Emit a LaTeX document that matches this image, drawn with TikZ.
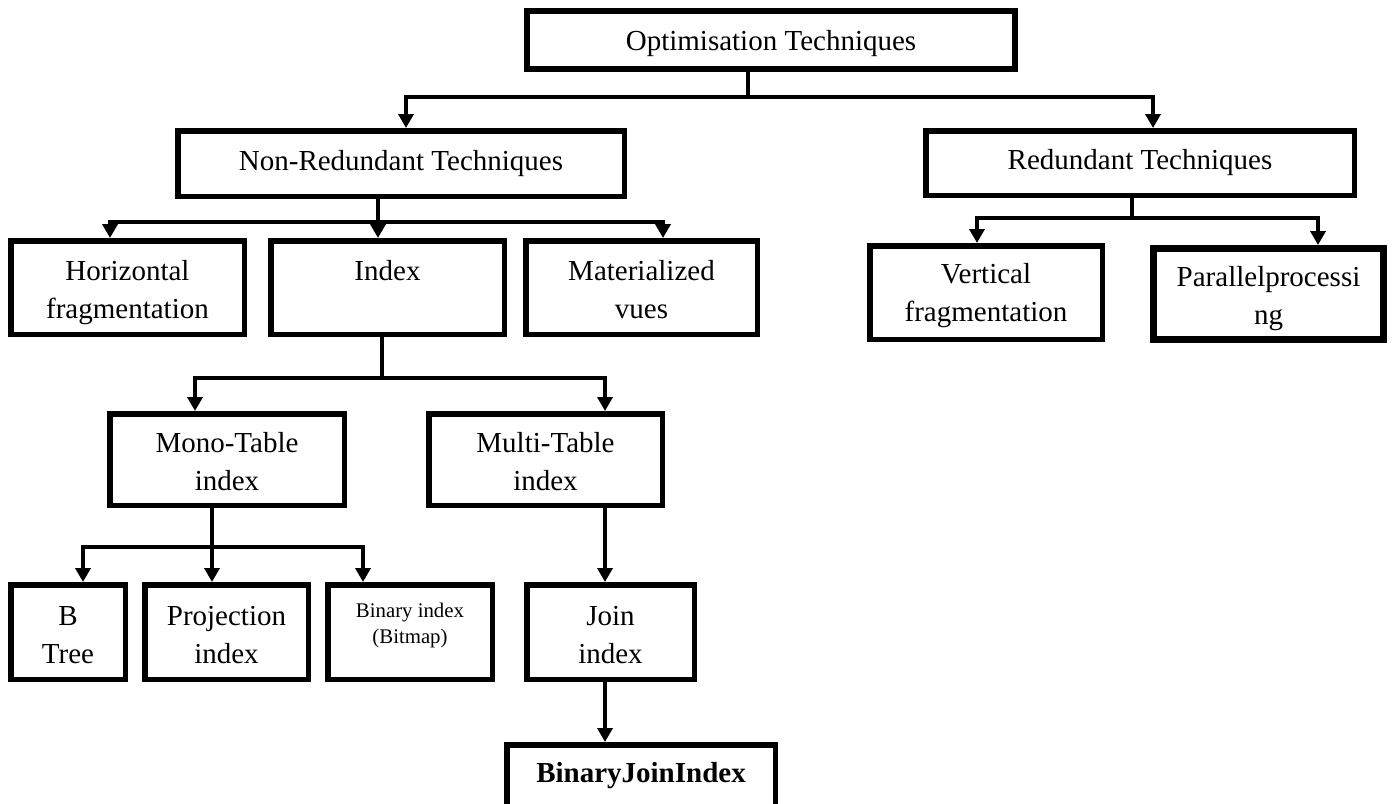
\documentclass[tikz,border=0pt]{standalone}
\usepackage{fontspec}
\setmainfont{Liberation Serif}
\usetikzlibrary{arrows.meta}
\begin{document}
\begin{tikzpicture}[x=1pt,y=-1pt,
  box/.style={draw, line width=5.5pt, inner sep=0pt, align=center,
    font=\fontsize{29pt}{38pt}\selectfont},
  twoline/.style={text height=69pt, text depth=7pt},
  small/.style={font=\fontsize{20.8pt}{26pt}\selectfont, text height=29pt, text depth=7pt},
  link/.style={line width=4pt},
  arr/.style={line width=4pt, -{Triangle[width=15pt,length=14pt]}}]
\useasboundingbox (0,0) rectangle (1399,803);

% level 0
\node[box, line width=6pt, text height=26pt, text depth=6pt, minimum width=488pt, minimum height=58pt] (opt) at (771,40) {Optimisation Techniques};

% level 1
\node[box, minimum width=446.5pt, minimum height=65.5pt] (nonred) at (401,163.5) {Non-Redundant Techniques};
\node[box, minimum width=428.5pt, minimum height=64.5pt] (red) at (1140,163) {Redundant Techniques};

% level 2
\node[box, twoline, minimum width=233.5pt, minimum height=93.5pt] (horiz) at (127.5,287.5) {Horizontal\\fragmentation};
\node[box, twoline, minimum width=233.5pt, minimum height=93.5pt] (index) at (387.5,287.5) {Index\\~};
\node[box, twoline, minimum width=231.5pt, minimum height=93.5pt] (mat) at (641.5,287.5) {Materialized\\vues};
\node[box, twoline, text height=64pt, minimum width=232.5pt, minimum height=93.5pt] (vert) at (986,292.5) {Vertical\\fragmentation};
\node[box, twoline, text height=67pt, line width=7pt, minimum width=230pt, minimum height=91pt] (par) at (1268.5,294) {Parallelprocessi\\ng};

% level 3
\node[box, twoline, minimum width=234.5pt, minimum height=91.5pt] (mono) at (227,459.5) {Mono-Table\\index};
\node[box, twoline, minimum width=233.5pt, minimum height=91.5pt] (multi) at (545.5,459.5) {Multi-Table\\index};

% level 4
\node[box, twoline, minimum width=114.5pt, minimum height=94.5pt] (btree) at (68,632) {B\\Tree};
\node[box, twoline, minimum width=163.5pt, minimum height=94.5pt] (proj) at (226.5,632) {Projection\\index};
\node[box, small, minimum width=164.5pt, minimum height=94.5pt] (bin) at (410,632) {Binary index\\(Bitmap)};
\node[box, twoline, minimum width=167.5pt, minimum height=94.5pt] (join) at (610.5,632) {Join\\index};

% level 5
\node[box, minimum width=268.5pt, minimum height=62.5pt, font=\fontsize{29pt}{38pt}\selectfont\bfseries] (bji) at (641,776) {BinaryJoinIndex};

% connectors
\coordinate (j1) at (748,97);
\draw[link] (j1 |- opt.south) -- (j1);
\draw[arr] (j1) -| ([xshift=5pt]nonred.north);
\draw[arr] (j1) -| ([xshift=13pt]red.north);

\coordinate (j2) at (378,222);
\draw[link] (j2 |- nonred.south) -- (j2);
\draw[arr] (j2) -| ([xshift=-17.5pt]horiz.north);
\draw[arr] (j2) -- (j2 |- index.north);
\draw[arr] (j2) -| ([xshift=21.5pt]mat.north);

\coordinate (j3) at (1132,218);
\draw[link] (j3 |- red.south) -- (j3);
\draw[arr] (j3) -| ([xshift=-9pt]vert.north);
\draw[arr] (j3) -| ([xshift=49.5pt]par.north);

\coordinate (j4) at (382,378);
\draw[link] (j4 |- index.south) -- (j4);
\draw[arr] (j4) -| ([xshift=-32pt]mono.north);
\draw[arr] (j4) -| ([xshift=59.5pt]multi.north);

\coordinate (j5) at (212,547);
\draw[link] (j5 |- mono.south) -- (j5);
\draw[arr] (j5) -| ([xshift=15pt]btree.north);
\draw[arr] (j5) -- (j5 |- proj.north);
\draw[arr] (j5) -| ([xshift=-47pt]bin.north);

\draw[arr] ([xshift=59.5pt]multi.south) -- ([xshift=-5.5pt]join.north);
\draw[arr] ([xshift=-5.5pt]join.south) -- ([xshift=-36pt]bji.north);
\end{tikzpicture}
\end{document}
